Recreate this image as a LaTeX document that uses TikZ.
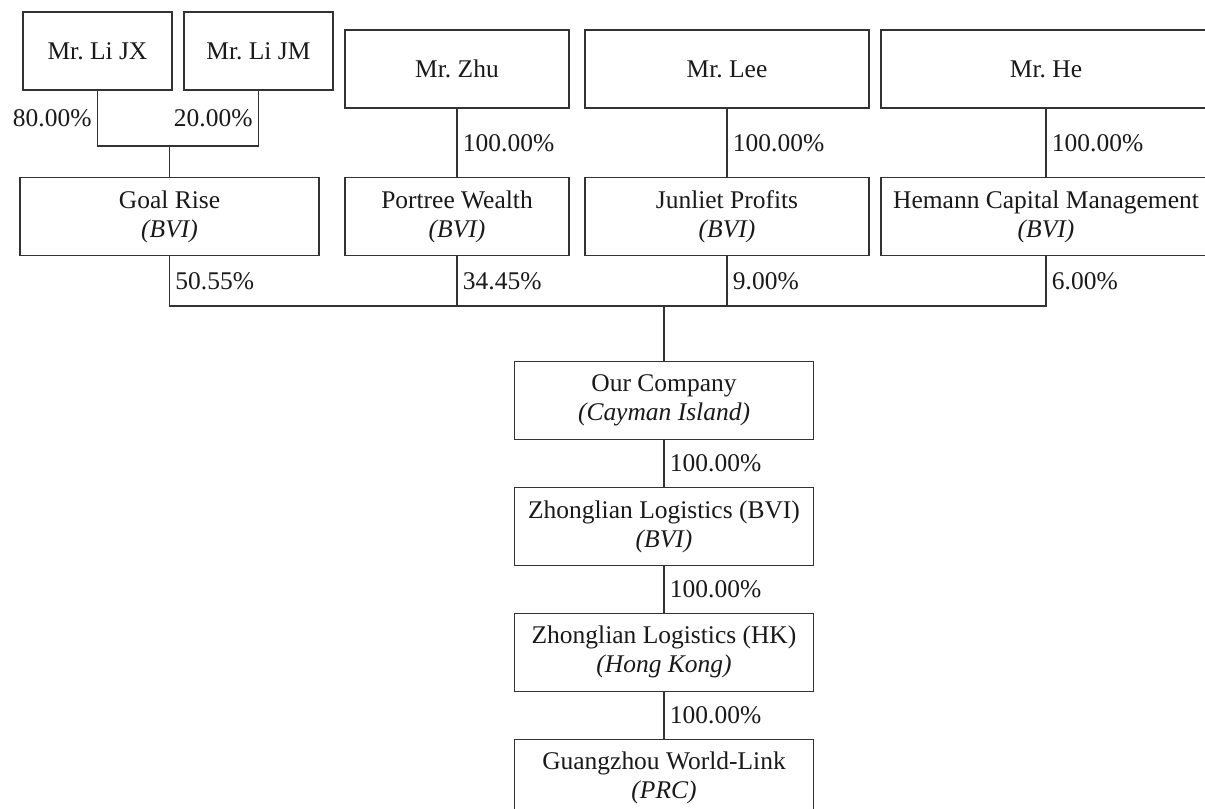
\documentclass[tikz,border=0pt]{standalone}
\usepackage{fontspec}
\setmainfont{Liberation Serif}
\usetikzlibrary{positioning}

\begin{document}
\begin{tikzpicture}[
  node distance=9.3mm,
  box/.style={rectangle, draw=black!80, line width=0.8pt, align=center, inner sep=0pt, minimum height=15.6mm, font=\fontsize{14.5}{16.5}\selectfont\frenchspacing, text=black!90},
  pct/.style={font=\fontsize{14.5}{16.5}\selectfont, text=black!90, inner sep=3pt},
  link/.style={draw=black!80, line width=0.8pt}
]
\useasboundingbox (0,0) rectangle (24.1,-16.16);
\node[box, minimum width=29.8mm] (lijx) at (1.95,-1.02) {Mr. Li JX};
\node[box, minimum width=29.8mm] (lijm) at (5.17,-1.02) {Mr. Li JM};
\node[box, minimum width=44.8mm] (zhu) at (9.14,-1.38) {Mr. Zhu};
\node[box, minimum width=56.8mm] (lee) at (14.54,-1.38) {Mr. Lee};
\node[box, minimum width=66mm] (he) at (20.92,-1.38) {Mr. He};
\node[box, minimum width=59.8mm] (goal) at (3.39,-4.33) {Goal Rise\\\textit{(BVI)}};
\node[box, minimum width=44.8mm] (portree) at (9.14,-4.33) {Portree Wealth\\\textit{(BVI)}};
\node[box, minimum width=56.8mm] (junliet) at (14.54,-4.33) {Junliet Profits\\\textit{(BVI)}};
\node[box, minimum width=66mm] (hemann) at (20.92,-4.33) {Hemann Capital Management\\\textit{(BVI)}};
\node[box, minimum width=59.8mm] (ourco) at (13.28,-8.01) {Our Company\\\textit{(Cayman Island)}};
\node[box, minimum width=59.8mm, below=of ourco] (zlbvi) {Zhonglian Logistics (BVI)\\\textit{(BVI)}};
\node[box, minimum width=59.8mm, below=of zlbvi] (zlhk) {Zhonglian Logistics (HK)\\\textit{(Hong Kong)}};
\node[box, minimum width=59.8mm, below=of zlhk] (gzwl) {Guangzhou World-Link\\\textit{(PRC)}};
\coordinate (libar) at (3.39,-2.92);
\coordinate (bar) at (13.28,-6.12);

% Li brothers into Goal Rise
\draw[link] (lijx.south) -- node[pct, left] {80.00\%} (lijx.south |- libar) -- (lijm.south |- libar) -- node[pct, left] {20.00\%} (lijm.south);
\draw[link] (libar) -- (goal);
\draw[link] (zhu) -- node[pct, right] {100.00\%} (portree);
\draw[link] (lee) -- node[pct, right] {100.00\%} (junliet);
\draw[link] (he) -- node[pct, right] {100.00\%} (hemann);

% shareholders of the company
\draw[link] (goal.south) -- node[pct, right] {50.55\%} (goal.south |- bar) -- (hemann.south |- bar) -- node[pct, right] {6.00\%} (hemann.south);
\draw[link] (portree.south) -- node[pct, right] {34.45\%} (portree.south |- bar);
\draw[link] (junliet.south) -- node[pct, right] {9.00\%} (junliet.south |- bar);
\draw[link] (bar) -- (ourco);

% subsidiaries
\draw[link] (ourco) -- node[pct, right] {100.00\%} (zlbvi);
\draw[link] (zlbvi) -- node[pct, right] {100.00\%} (zlhk);
\draw[link] (zlhk) -- node[pct, right] {100.00\%} (gzwl);
\end{tikzpicture}
\end{document}
